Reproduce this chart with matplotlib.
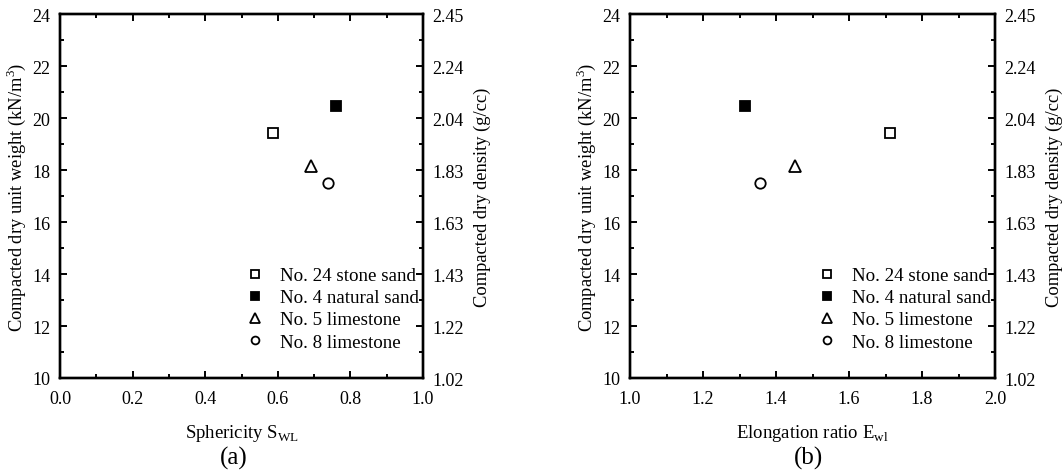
import numpy as np
import matplotlib
matplotlib.use("Agg")
from matplotlib import pyplot as plt
from matplotlib.ticker import MultipleLocator, FixedLocator, FixedFormatter

plt.rcParams['font.family'] = ['Liberation Serif', 'DejaVu Serif']
plt.rcParams['mathtext.fontset'] = 'custom'
plt.rcParams['mathtext.rm'] = 'Liberation Serif'

# data
names = ['No. 24 stone sand', 'No. 4 natural sand', 'No. 5 limestone', 'No. 8 limestone']
unit_weight = [19.42, 20.46, 18.17, 17.49]
sphericity = [0.586, 0.760, 0.691, 0.737]
elongation = [1.712, 1.315, 1.451, 1.357]

markers = ['s', 's', '^', 'o']
sizes = [7.5, 7.5, 9, 7.5]
faces = ['white', 'black', 'white', 'white']

left_ticks = [10, 12, 14, 16, 18, 20, 22, 24]
right_labels = ['1.02', '1.22', '1.43', '1.63', '1.83', '2.04', '2.24', '2.45']

W, H = 1063, 477
fig = plt.figure(figsize=(W/100, H/100), dpi=100)
ax1 = fig.add_axes([60/W, 1-379/H, 363/W, 364/H])
ax2 = fig.add_axes([630/W, 1-379/H, 365/W, 364/H])

panels = [(ax1, sphericity, (0.0, 1.0), 'Sphericity S$_{\\mathrm{WL}}$', '(a)', 0.48),
          (ax2, elongation, (1.0, 2.0), 'Elongation ratio E$_{\\mathrm{wl}}$', '(b)', 0.49)]

for ax, xs, xlim, xlab, tag, tx in panels:
    for i in range(4):
        ax.plot(xs[i], unit_weight[i], linestyle='none', marker=markers[i], ms=sizes[i],
                mfc=faces[i], mec='black', mew=1.3, label=names[i])
    ax.set_xlim(*xlim)
    ax.set_ylim(10, 24)
    ax.xaxis.set_major_locator(MultipleLocator(0.2))
    ax.xaxis.set_minor_locator(MultipleLocator(0.1))
    ax.set_yticks(left_ticks)
    ax.yaxis.set_minor_locator(MultipleLocator(1))
    ax.tick_params(which='both', direction='in', top=True, labelsize=13, width=1.4)
    ax.tick_params(axis='x', which='major', pad=8.5)
    ax.tick_params(axis='y', which='major', pad=7)
    ax.tick_params(which='major', length=5)
    ax.tick_params(which='minor', length=3)
    for s in ax.spines.values():
        s.set_linewidth(1.7)
    ax.set_ylabel('Compacted dry unit weight (kN/m$^3$)', fontsize=13.3, labelpad=3)
    ax.set_xlabel(xlab, fontsize=13.5, labelpad=11)

    axr = ax.twinx()
    axr.set_ylim(10, 24)
    axr.yaxis.set_major_locator(FixedLocator(left_ticks))
    axr.yaxis.set_major_formatter(FixedFormatter(right_labels))
    axr.yaxis.set_minor_locator(MultipleLocator(1))
    axr.tick_params(which='both', direction='in', labelsize=13, width=1.4)
    axr.tick_params(which='major', length=5, pad=7)
    axr.tick_params(which='minor', length=3)
    axr.set_ylabel('Compacted dry density (g/cc)', fontsize=13.3, labelpad=7)
    for s in axr.spines.values():
        s.set_linewidth(1.7)

    ax.legend(loc='lower right', bbox_to_anchor=(1.0, 0.065), frameon=False,
              fontsize=13.7, markerscale=0.75, handlelength=1.0, handletextpad=0.85,
              labelspacing=0.25, borderaxespad=0.0, borderpad=0.2)
    ax.text(tx, -0.217, tag, transform=ax.transAxes, ha='center', va='center', fontsize=18)

fig.savefig('out.png', dpi=100)
